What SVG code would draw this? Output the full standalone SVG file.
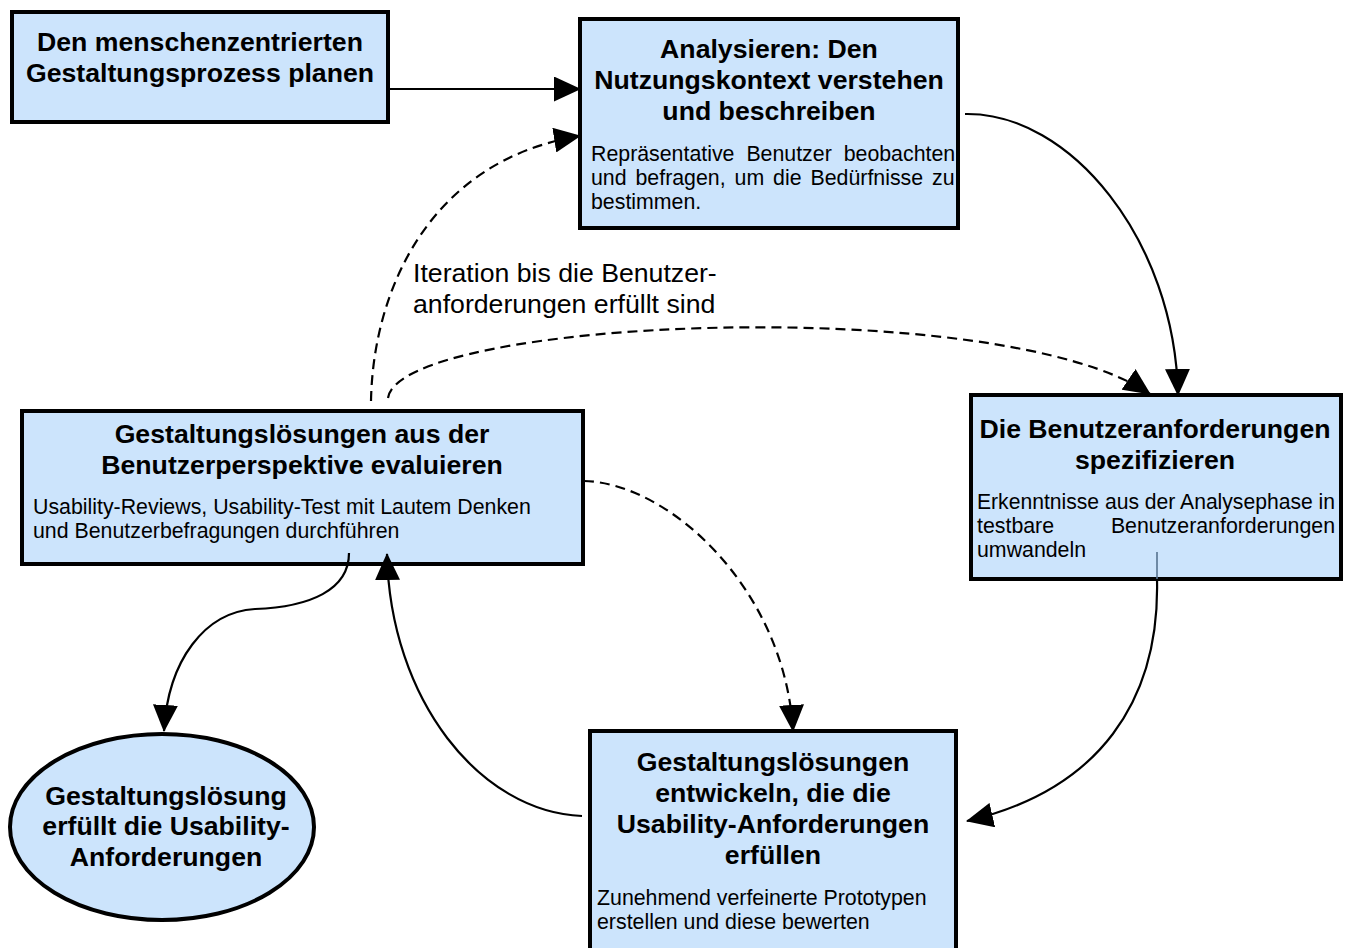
<svg xmlns="http://www.w3.org/2000/svg" width="1348" height="948" viewBox="0 0 1348 948">
<style>
.box{fill:#cce4fc;stroke:#000;stroke-width:4}
.t{font-family:"Liberation Sans",Arial,sans-serif;font-size:26.67px;font-weight:bold;fill:#000;text-anchor:middle}
.b{font-family:"Liberation Sans",Arial,sans-serif;font-size:21.33px;fill:#000}
.it{font-family:"Liberation Sans",Arial,sans-serif;font-size:26.67px;fill:#000}
.c{fill:none;stroke:#000;stroke-width:2.2}
.d{stroke-dasharray:10,6}
</style>
<defs>
<marker id="ah" markerUnits="userSpaceOnUse" markerWidth="27" markerHeight="25" refX="26" refY="12.5" orient="auto">
<path d="M0,0 L27,12.5 L0,25 z" fill="#000"/>
</marker>
</defs>
<rect width="1348" height="948" fill="#fff"/>

<g id="plan">
<rect class="box" x="12" y="12" width="376" height="110"/>
<text class="t" x="200" y="51">Den menschenzentrierten</text>
<text class="t" x="200" y="82">Gestaltungsprozess planen</text>
</g>

<g id="analyse">
<rect class="box" x="580" y="19" width="378" height="209"/>
<text class="t" x="769" y="58">Analysieren: Den</text>
<text class="t" x="769" y="89">Nutzungskontext verstehen</text>
<text class="t" x="769" y="120">und beschreiben</text>
<text class="b" x="591" y="161" word-spacing="6">Repräsentative Benutzer beobachten</text>
<text class="b" x="591" y="185" word-spacing="3">und befragen, um die Bedürfnisse zu</text>
<text class="b" x="591" y="209">bestimmen.</text>
</g>

<g id="specify">
<rect class="box" x="971" y="395" width="370" height="184"/>
<text class="t" x="1155" y="438">Die Benutzeranforderungen</text>
<text class="t" x="1155" y="469">spezifizieren</text>
<text class="b" x="977" y="509" textLength="358" lengthAdjust="spacingAndGlyphs">Erkenntnisse aus der Analysephase in</text>
<text class="b" x="977" y="533">testbare</text>
<text class="b" x="1335" y="533" text-anchor="end">Benutzeranforderungen</text>
<text class="b" x="977" y="557">umwandeln</text>
</g>

<g id="develop">
<rect class="box" x="590" y="731" width="366" height="230"/>
<text class="t" x="773" y="771">Gestaltungslösungen</text>
<text class="t" x="773" y="802">entwickeln, die die</text>
<text class="t" x="773" y="833">Usability-Anforderungen</text>
<text class="t" x="773" y="864">erfüllen</text>
<text class="b" x="597" y="905">Zunehmend verfeinerte Prototypen</text>
<text class="b" x="597" y="929">erstellen und diese bewerten</text>
</g>

<g id="evaluate">
<rect class="box" x="22" y="411" width="561" height="153"/>
<text class="t" x="302" y="443">Gestaltungslösungen aus der</text>
<text class="t" x="302" y="474">Benutzerperspektive evaluieren</text>
<text class="b" x="33" y="514">Usability-Reviews, Usability-Test mit Lautem Denken</text>
<text class="b" x="33" y="538">und Benutzerbefragungen durchführen</text>
</g>

<g id="done">
<ellipse class="box" cx="162" cy="827" rx="152" ry="93"/>
<text class="t" x="166" y="805">Gestaltungslösung</text>
<text class="t" x="166" y="835">erfüllt die Usability-</text>
<text class="t" x="166" y="866">Anforderungen</text>
</g>

<g id="iteration-label">
<text class="it" x="413" y="282">Iteration bis die Benutzer-</text>
<text class="it" x="413" y="313">anforderungen erfüllt sind</text>
</g>

<g id="connectors">
<path class="c" d="M390,89 L580,89" marker-end="url(#ah)"/>
<path class="c d" d="M371,401 C373,290 430,160 580,136" marker-end="url(#ah)"/>
<path class="c d" d="M388,398 C400,318 1000,292 1150,394" marker-end="url(#ah)"/>
<path class="c" d="M965,114 C1070,112 1175,240 1178,395" marker-end="url(#ah)"/>
<line x1="1157" y1="552" x2="1157" y2="579" stroke="#56728f" stroke-width="1.6"/>
<path class="c" d="M1157,579 C1160,700 1100,790 967,821" marker-end="url(#ah)"/>
<path class="c" d="M582,816 C480,812 390,700 387,554" marker-end="url(#ah)"/>
<path class="c d" d="M584,481 C670,483 785,590 793,731" marker-end="url(#ah)"/>
<path class="c" d="M349,553 C349,590 310,607 255,609 C205,612 168,660 164,731" marker-end="url(#ah)"/>
</g>
</svg>
